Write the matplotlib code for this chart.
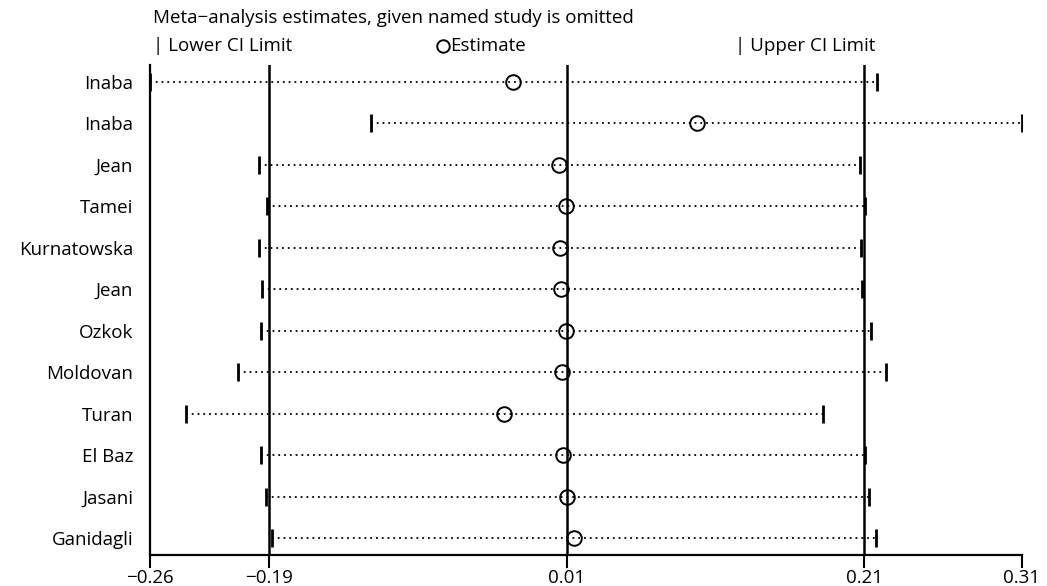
import numpy as np
import matplotlib
matplotlib.use("Agg")
import matplotlib.pyplot as plt
from matplotlib.lines import Line2D

plt.rcParams['font.family'] = ['Open Sans', 'DejaVu Sans']

# study omitted, and the meta-analysis result without it
studies = ['Inaba', 'Inaba', 'Jean', 'Tamei', 'Kurnatowska', 'Jean',
           'Ozkok', 'Moldovan', 'Turan', 'El Baz', 'Jasani', 'Ganidagli']
lower = [-0.2640, -0.1175, -0.1917, -0.1864, -0.1917, -0.1898,
         -0.1904, -0.2057, -0.2401, -0.1904, -0.1871, -0.1831]
estimate = [-0.0234, 0.0986, 0.0071, 0.0117, 0.0078, 0.0084,
            0.0117, 0.0091, -0.0294, 0.0098, 0.0124, 0.0170]
upper = [0.2179, 0.3140, 0.2066, 0.2099, 0.2073, 0.2079,
         0.2139, 0.2238, 0.1821, 0.2099, 0.2126, 0.2172]

# overall estimate and CI (vertical lines) and axis ticks
overall = [-0.1851, 0.0124, 0.2093]
tick_pos = [-0.2640, -0.1851, 0.0124, 0.2093, 0.3140]
tick_lab = ['\u22120.26', '\u22120.19', '0.01', '0.21', '0.31']

fs = 13.5

fig = plt.figure(figsize=(10.47, 5.86), dpi=100)
ax = fig.add_axes([150 / 1047, 1 - 555 / 586, 872 / 1047, 490 / 586])

y = np.arange(1, len(studies) + 1)

for v in overall:
    ax.axvline(v, color='black', lw=1.8, zorder=1)

ax.hlines(y, lower, upper, colors='black', linestyles=(0, (1, 2.2)), lw=1.3, zorder=2)
ax.plot(lower, y, ls='none', marker='|', ms=13, mew=2, color='black', zorder=3)
ax.plot(upper, y, ls='none', marker='|', ms=13, mew=2, color='black', zorder=3)
ax.plot(estimate, y, ls='none', marker='o', ms=10.5, mfc='none', mec='black', mew=1.4, zorder=4)

ax.set_xlim(tick_pos[0], tick_pos[-1])
ax.set_ylim(12.41, 0.59)
ax.set_xticks(tick_pos)
ax.set_xticklabels(tick_lab, fontsize=fs)
ax.set_yticks(y)
ax.set_yticklabels(studies, fontsize=fs)
ax.tick_params(axis='y', length=0, pad=12)
ax.tick_params(axis='x', length=9, width=1.5, pad=1)
ax.spines['top'].set_visible(False)
ax.spines['right'].set_visible(False)
for s in ['left', 'bottom']:
    ax.spines[s].set_linewidth(1.6)

fig.text(153 / 1047, 1 - 18 / 586, 'Meta\u2212analysis estimates, given named study is omitted',
         fontsize=fs, va='center', ha='left')
fig.text(153 / 1047, 1 - 46 / 586, '| Lower CI Limit', fontsize=fs, va='center', ha='left')
fig.add_artist(Line2D([443 / 1047], [1 - 46 / 586], marker='o', ms=9, mfc='none',
                      mec='black', mew=1.4, transform=fig.transFigure))
fig.text(450 / 1047, 1 - 46 / 586, 'Estimate', fontsize=fs, va='center', ha='left')
fig.text(735 / 1047, 1 - 46 / 586, '| Upper CI Limit', fontsize=fs, va='center', ha='left')

fig.savefig('out.png', dpi=100)
